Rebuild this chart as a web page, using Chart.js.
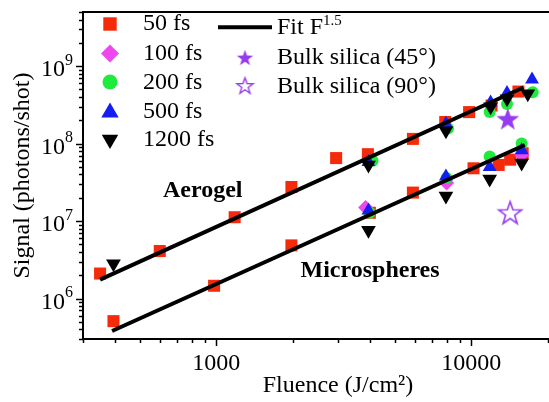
<!DOCTYPE html>
<html>
<head>
<meta charset="utf-8">
<script src="https://cdn.jsdelivr.net/npm/chart.js@4/dist/chart.umd.min.js"></script>
<style>
  html, body { margin: 0; padding: 0; overflow: hidden; background: #fff; }
  #signalChart { display: block; }
</style>
</head>
<body>
<canvas id="signalChart" width="605" height="402"></canvas>
<script>
// values (fluence in J/cm2, signal in photons/shot)
var fluence50 = [350, 600, 1180, 1970, 2950, 3930, 5900, 7900, 9800, 12000, 15300,
                 395, 980, 1970, 4000, 5900, 10200, 12800, 14200, 15900];
var signal50 = [2.1e6, 4.1e6, 1.12e7, 2.75e7, 6.5e7, 7.3e7, 1.15e8, 1.9e8, 2.55e8, 3.1e8, 4.7e8,
                5.1e5, 1.46e6, 4.85e6, 1.28e7, 2.33e7, 4.8e7, 5.3e7, 6.2e7, 7.5e7];

var fluence100 = [3850, 8000, 15750];
var signal100 = [1.5e7, 3.1e7, 7.2e7];

var fluence200 = [4100, 8100, 11800, 13800, 17400, 4000, 8000, 11800, 15750];
var signal200 = [6.0e7, 1.57e8, 2.55e8, 3.25e8, 4.6e8, 1.28e7, 3.6e7, 6.8e7, 1.0e8];

var fluence500 = [3950, 7950, 11900, 13800, 17300, 3950, 7950, 11800, 15750];
var signal500 = [5.8e7, 1.8e8, 3.4e8, 4.5e8, 6.7e8, 1.37e7, 3.75e7, 5.0e7, 8.2e7];

var fluence1200 = [395, 3950, 7950, 11900, 13800, 16650, 3950, 7950, 11800, 15750];
var signal1200 = [2.8e6, 5.3e7, 1.47e8, 3.0e8, 3.8e8, 4.4e8, 7.6e6, 2.1e7, 3.5e7, 5.6e7];

var fluenceBulk45 = [13900];
var signalBulk45 = [2.1e8];
var fluenceBulk90 = [14200];
var signalBulk90 = [1.29e7];

var fitAerogelFluence = [350, 16000];
var fitAerogelSignal = [1.75e6, 5.3e8];
var fitMicroFluence = [390, 16200];
var fitMicroSignal = [3.8e5, 9.6e7];

var pulseLabels = ['50 fs', '100 fs', '200 fs', '500 fs', '1200 fs'];
var bulkLabels = ['Bulk silica (45\u00b0)', 'Bulk silica (90\u00b0)'];
var fitLabel = 'Fit F';
var fitExponent = '1.5';
var sampleLabels = ['Aerogel', 'Microspheres'];

var xTickValues = [1000, 10000];
var xTickLabels = ['1000', '10000'];
var yTickExponents = [6, 7, 8, 9];
var xTitle = 'Fluence (J/cm\u00b2)';
var yTitle = 'Signal (photons/shot)';

var serif = '"Liberation Serif", "Times New Roman", serif';
var red = '#f52a0a', pink = '#f046f0', green = '#1eeb3c', blue = '#141ef0', purple = '#963cf0';

function toPoints(xs, ys) {
  var pts = [];
  for (var i = 0; i < xs.length; i++) {
    pts.push({x: xs[i], y: ys[i]});
  }
  return pts;
}

// five point star as an image, chart.js 'star' is only an asterisk
function makeStar(R, fill, stroke, lw) {
  var size = Math.ceil(2 * R + lw + 2);
  var c = document.createElement('canvas');
  c.width = size; c.height = size;
  var g = c.getContext('2d');
  g.beginPath();
  for (var i = 0; i < 10; i++) {
    var a = -Math.PI / 2 + i * Math.PI / 5;
    var r = i % 2 ? R * 0.4 : R;
    var px = size / 2 + r * Math.cos(a), py = size / 2 + R * 0.1 + r * Math.sin(a);
    if (i === 0) g.moveTo(px, py); else g.lineTo(px, py);
  }
  g.closePath();
  g.fillStyle = fill;
  g.fill();
  if (stroke) {
    g.lineWidth = lw;
    g.strokeStyle = stroke;
    g.stroke();
  }
  return c;
}

var starFilled = makeStar(12, purple, null, 0);
var starOpen = makeStar(12, '#fff', purple, 1.6);
var starFilledSmall = makeStar(8.5, purple, null, 0);
var starOpenSmall = makeStar(8.5, '#fff', purple, 1.4);

function markerSet(label, xs, ys, style, color, radius, rot) {
  return {
    label: label,
    data: toPoints(xs, ys),
    showLine: false,
    pointStyle: style,
    pointRotation: rot || 0,
    pointRadius: radius,
    pointHoverRadius: radius,
    backgroundColor: color,
    borderColor: color,
    borderWidth: 0
  };
}

function fitSet(xs, ys) {
  return {
    label: fitLabel,
    data: toPoints(xs, ys),
    showLine: true,
    pointRadius: 0,
    borderColor: '#000',
    borderWidth: 4,
    fill: false
  };
}

// first dataset is drawn on top
var datasets = [
  fitSet(fitAerogelFluence, fitAerogelSignal),
  fitSet(fitMicroFluence, fitMicroSignal),
  markerSet(bulkLabels[0], fluenceBulk45, signalBulk45, starFilled, purple, 12),
  markerSet(bulkLabels[1], fluenceBulk90, signalBulk90, starOpen, purple, 12),
  markerSet(pulseLabels[4], fluence1200, signal1200, 'triangle', '#000', 8.5, 180),
  markerSet(pulseLabels[3], fluence500, signal500, 'triangle', blue, 8),
  markerSet(pulseLabels[2], fluence200, signal200, 'circle', green, 6),
  markerSet(pulseLabels[1], fluence100, signal100, 'rectRot', pink, 7.5),
  markerSet(pulseLabels[0], fluence50, signal50, 'rect', red, 8.5)
];

function tickValues(min, max) {
  var vals = [];
  for (var d = Math.floor(Math.log10(min)); d <= Math.ceil(Math.log10(max)); d++) {
    for (var k = 1; k < 10; k++) {
      var v = k * Math.pow(10, d);
      if (v >= min * 0.999 && v <= max * 1.001) vals.push({v: v, major: k === 1});
    }
  }
  return vals;
}

var framePlugin = {
  id: 'frame',
  afterDraw: function(chart) {
    var ctx = chart.ctx;
    var area = chart.chartArea;
    var xs = chart.scales.x, ys = chart.scales.y;
    ctx.save();

    ctx.strokeStyle = '#000';
    ctx.lineWidth = 2;
    ctx.beginPath();
    ctx.moveTo(area.left - 1, area.top);
    ctx.lineTo(area.right, area.top);
    ctx.stroke();

    // tick marks, outward
    ctx.lineWidth = 1.5;
    var xt = tickValues(xs.min, xs.max);
    for (var i = 0; i < xt.length; i++) {
      var px = Math.round(xs.getPixelForValue(xt[i].v)) + 0.5;
      ctx.beginPath();
      ctx.moveTo(px, area.bottom);
      ctx.lineTo(px, area.bottom + (xt[i].major ? 7 : 4));
      ctx.stroke();
    }
    var yt = tickValues(ys.min, ys.max);
    for (var j = 0; j < yt.length; j++) {
      var py = Math.round(ys.getPixelForValue(yt[j].v)) + 0.5;
      ctx.beginPath();
      ctx.moveTo(area.left, py);
      ctx.lineTo(area.left - (yt[j].major ? 7 : 4), py);
      ctx.stroke();
    }

    // y labels 10^n
    ctx.fillStyle = '#000';
    ctx.textBaseline = 'alphabetic';
    ctx.textAlign = 'left';
    for (var e = 0; e < yTickExponents.length; e++) {
      var ty = ys.getPixelForValue(Math.pow(10, yTickExponents[e]));
      ctx.font = '24px ' + serif;
      ctx.fillText('10', 41, ty + 10);
      var w10 = ctx.measureText('10').width;
      ctx.font = '16px ' + serif;
      ctx.fillText(String(yTickExponents[e]), 41 + w10, ty - 1.5);
    }

    // sample names
    ctx.font = 'bold 24px ' + serif;
    ctx.fillText(sampleLabels[0], 163, 196.5);
    ctx.fillText(sampleLabels[1], 300.5, 276.5);

    // legend
    var markers = [
      {style: 'rect', color: red, r: 9.5, rot: 0, y: 24},
      {style: 'rectRot', color: pink, r: 9, rot: 0, y: 53.5},
      {style: 'circle', color: green, r: 7.5, rot: 0, y: 82},
      {style: 'triangle', color: blue, r: 10, rot: 0, y: 112.5},
      {style: 'triangle', color: '#000', r: 9.5, rot: 180, y: 139.6}
    ];
    var textY = [24, 54, 83, 111.5, 140];
    for (var m = 0; m < markers.length; m++) {
      ctx.fillStyle = markers[m].color;
      ctx.strokeStyle = markers[m].color;
      Chart.helpers.drawPoint(ctx, {pointStyle: markers[m].style, rotation: markers[m].rot,
        radius: markers[m].r, borderWidth: 0}, 110, markers[m].y);
    }
    ctx.fillStyle = '#000';
    ctx.font = '24px ' + serif;
    ctx.textBaseline = 'middle';
    for (var t = 0; t < pulseLabels.length; t++) {
      ctx.fillText(pulseLabels[t], 143, textY[t]);
    }

    ctx.strokeStyle = '#000';
    ctx.lineWidth = 4;
    ctx.beginPath();
    ctx.moveTo(218, 27.3);
    ctx.lineTo(272, 27.3);
    ctx.stroke();
    ctx.fillText(fitLabel, 277, 27.5);
    var wFit = ctx.measureText(fitLabel).width;
    ctx.textBaseline = 'alphabetic';
    ctx.font = '15px ' + serif;
    ctx.fillText(fitExponent, 277 + wFit, 24.5);

    ctx.drawImage(starFilledSmall, 245 - starFilledSmall.width / 2, 57.5 - starFilledSmall.height / 2);
    ctx.drawImage(starOpenSmall, 245 - starOpenSmall.width / 2, 85.5 - starOpenSmall.height / 2);
    ctx.font = '24px ' + serif;
    ctx.textBaseline = 'middle';
    ctx.fillText(bulkLabels[0], 277, 58);
    ctx.fillText(bulkLabels[1], 277, 86.5);

    ctx.restore();
  }
};

var signalChart = new Chart(document.getElementById('signalChart'), {
  type: 'scatter',
  data: { datasets: datasets },
  options: {
    responsive: false,
    animation: false,
    layout: { padding: { top: 9, right: 0, bottom: 0, left: 0 } },
    plugins: {
      legend: { display: false },
      tooltip: { enabled: false }
    },
    scales: {
      x: {
        type: 'logarithmic',
        min: 300,
        max: 30000,
        grid: { display: false, drawTicks: false },
        border: { display: true, color: '#000', width: 2 },
        afterBuildTicks: function(scale) {
          scale.ticks = xTickValues.map(function(v) { return {value: v}; });
        },
        afterFit: function(scale) { scale.height = 63; },
        ticks: {
          autoSkip: false,
          maxRotation: 0,
          padding: 10,
          color: '#000',
          font: { family: serif, size: 24 },
          callback: function(value) {
            var i = xTickValues.indexOf(value);
            return i === -1 ? '' : xTickLabels[i];
          }
        },
        title: {
          display: true,
          text: xTitle,
          color: '#000',
          font: { family: serif, size: 24 },
          padding: { top: 0, bottom: 2 }
        }
      },
      y: {
        type: 'logarithmic',
        min: 3e5,
        max: 5e9,
        grid: { display: false, drawTicks: false },
        border: { display: true, color: '#000', width: 2 },
        afterBuildTicks: function(scale) {
          scale.ticks = yTickExponents.map(function(e) { return {value: Math.pow(10, e)}; });
        },
        afterFit: function(scale) { scale.width = 83; },
        ticks: { display: false },
        title: {
          display: true,
          text: yTitle,
          color: '#000',
          font: { family: serif, size: 24 },
          padding: { top: 8, bottom: 0 }
        }
      }
    }
  },
  plugins: [framePlugin]
});
</script>
</body>
</html>
